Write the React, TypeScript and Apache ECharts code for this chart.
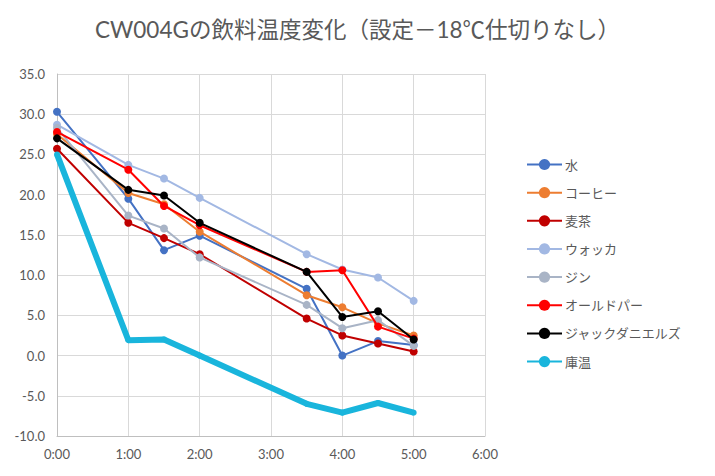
import React, { useEffect, useRef } from "react";
import * as echarts from "echarts";

const TITLE = "CW004Gの飲料温度変化（設定－18℃仕切りなし）";
const times = [0, 1, 1.5, 2, 3.5, 4, 4.5, 5];
const seriesNames = ["水", "コーヒー", "麦茶", "ウォッカ", "ジン", "オールドパー", "ジャックダニエルズ", "庫温"];
const water = [30.3, 19.5, 13.1, 14.9, 8.3, 0.0, 1.8, 1.3];
const coffee = [27.5, 20.2, 18.8, 15.4, 7.5, 6.0, 4.0, 2.5];
const mugicha = [25.7, 16.5, 14.6, 12.6, 4.6, 2.5, 1.5, 0.5];
const vodka = [28.7, 23.7, 22.0, 19.6, 12.6, 10.7, 9.7, 6.8];
const gin = [28.3, 17.4, 15.8, 12.2, 6.3, 3.4, 4.4, 1.2];
const oldParr = [27.8, 23.1, 18.6, 16.2, 10.4, 10.6, 3.6, 2.1];
const jack = [27.0, 20.6, 19.9, 16.5, 10.4, 4.8, 5.5, 2.0];
const kuon = [25.0, 1.9, 2.0, 0.0, -6.0, -7.1, -5.9, -7.1];
const allValues = [water, coffee, mugicha, vodka, gin, oldParr, jack, kuon];
const colors = ["#4472C4", "#ED7D31", "#C00000", "#A2B8E3", "#A9B4C6", "#FF0000", "#000000", "#19B5DC"];

const FONT = "Lato, 'Noto Sans CJK JP', sans-serif";

export default function App() {
  const ref = useRef<HTMLDivElement>(null);
  useEffect(() => {
    if (!ref.current) return;
    const chart = echarts.init(ref.current, undefined, { renderer: "svg" });
    const series = seriesNames.map((name, i) => {
      const isKuon = i === 7;
      return {
        name,
        type: "line",
        data: times.map((t, j) => [t, allValues[i][j]]),
        symbol: "circle",
        symbolSize: isKuon ? 6 : 8,
        showSymbol: true,
        lineStyle: { color: colors[i], width: isKuon ? 6 : 2 },
        itemStyle: { color: colors[i] },
        z: 2 + i,
      };
    });
    chart.setOption({
      animation: false,
      backgroundColor: "#ffffff",
      title: {
        text: TITLE,
        left: "center",
        top: 13,
        textStyle: { fontFamily: FONT, fontSize: 22.5, fontWeight: "normal", color: "#595959" },
      },
      grid: { left: 57, top: 74, width: 428, height: 362, containLabel: false },
      legend: {
        orient: "vertical",
        left: 521,
        top: 152.5,
        itemWidth: 35,
        itemHeight: 14,
        itemGap: 14.15,
        data: seriesNames,
        textStyle: { fontFamily: FONT, fontSize: 13, color: "#595959", lineHeight: 14, padding: [0, 0, 0, -2] },
      },
      xAxis: {
        type: "value",
        min: 0,
        max: 6,
        interval: 1,
        axisLine: { show: true, onZero: false, lineStyle: { color: "#BFBFBF", width: 1 } },
        axisTick: { show: false },
        splitLine: { show: true, lineStyle: { color: "#D9D9D9", width: 1 } },
        axisLabel: {
          formatter: (v: number) => `${v}:00`,
          fontFamily: FONT,
          fontSize: 13,
          color: "#595959",
          margin: 11,
        },
      },
      yAxis: {
        type: "value",
        min: -10,
        max: 35,
        interval: 5,
        axisLine: { show: true, lineStyle: { color: "#BFBFBF", width: 1 } },
        axisTick: { show: false },
        splitLine: { show: true, lineStyle: { color: "#D9D9D9", width: 1 } },
        axisLabel: {
          formatter: (v: number) => v.toFixed(1),
          fontFamily: FONT,
          fontSize: 13,
          color: "#595959",
          margin: 12,
        },
      },
      series,
    });
    return () => chart.dispose();
  }, []);
  return <div ref={ref} style={{ position: "fixed", left: 0, top: 0, width: 715, height: 476 }} />;
}
